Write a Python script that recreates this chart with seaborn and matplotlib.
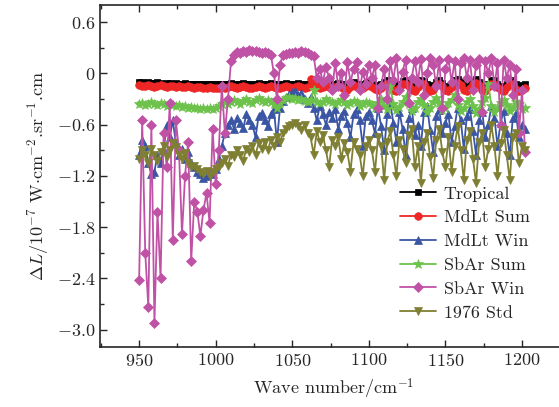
import numpy as np
import pandas as pd
import matplotlib
matplotlib.use("Agg")
import matplotlib.pyplot as plt
from matplotlib.ticker import MultipleLocator, FuncFormatter
import seaborn as sns

# wave number grid (cm^-1), every 2 cm^-1
wave = np.arange(950, 1203, 2)

tropical = [
    -0.10, -0.10, -0.11, -0.10, -0.11, -0.11, -0.10, -0.11, -0.12, -0.11, -0.11, -0.12, -0.11,
    -0.12, -0.12, -0.11, -0.12, -0.13, -0.12, -0.12, -0.13, -0.13, -0.12, -0.13, -0.13, -0.13,
    -0.13, -0.12, -0.13, -0.12, -0.11, -0.12, -0.13, -0.12, -0.11, -0.12, -0.12, -0.13, -0.12,
    -0.11, -0.12, -0.13, -0.12, -0.11, -0.12, -0.12, -0.13, -0.12, -0.11, -0.12, -0.13,
    -0.12, -0.11, -0.12, -0.13, -0.12, -0.11, -0.10, -0.12, -0.13, -0.12, -0.11, -0.12, -0.13,
    -0.12, -0.11, -0.12, -0.13, -0.14, -0.12, -0.10, -0.12, -0.14, -0.13, -0.11, -0.10,
    -0.12, -0.14, -0.15, -0.13, -0.10, -0.08, -0.11, -0.14, -0.16, -0.13, -0.09, -0.08, -0.11,
    -0.15, -0.16, -0.12, -0.08, -0.09, -0.13, -0.16, -0.14, -0.10, -0.08, -0.11, -0.15,
    -0.16, -0.12, -0.08, -0.07, -0.10, -0.14, -0.16, -0.13, -0.09, -0.07, -0.10, -0.14, -0.16,
    -0.12, -0.08, -0.08, -0.12, -0.15, -0.16, -0.12, -0.08, -0.09, -0.13, -0.16, -0.14, -0.12,
]

mdlt_sum = [
    -0.14, -0.15, -0.15, -0.14, -0.15, -0.16, -0.15, -0.14, -0.15, -0.16, -0.15, -0.15, -0.16,
    -0.15, -0.16, -0.16, -0.15, -0.16, -0.17, -0.16, -0.16, -0.17, -0.17, -0.16, -0.17, -0.17,
    -0.17, -0.16, -0.17, -0.16, -0.15, -0.16, -0.17, -0.16, -0.15, -0.16, -0.17, -0.17, -0.16,
    -0.15, -0.16, -0.17, -0.16, -0.15, -0.16, -0.17, -0.17, -0.16, -0.15, -0.16, -0.17,
    -0.16, -0.15, -0.16, -0.17, -0.16, -0.07, -0.12, -0.16, -0.17, -0.16, -0.15, -0.16, -0.17,
    -0.16, -0.15, -0.16, -0.18, -0.19, -0.16, -0.14, -0.16, -0.18, -0.17, -0.15, -0.14,
    -0.16, -0.18, -0.20, -0.17, -0.14, -0.12, -0.15, -0.19, -0.21, -0.17, -0.13, -0.12, -0.15,
    -0.20, -0.21, -0.16, -0.12, -0.13, -0.18, -0.21, -0.19, -0.14, -0.12, -0.15, -0.20,
    -0.21, -0.16, -0.12, -0.11, -0.14, -0.19, -0.21, -0.17, -0.13, -0.11, -0.14, -0.19, -0.21,
    -0.16, -0.12, -0.12, -0.16, -0.20, -0.21, -0.16, -0.12, -0.13, -0.18, -0.21, -0.19, -0.17,
]

mdlt_win = [
    -0.95, -0.78, -0.85, -1.05, -1.18, -1.15, -0.95, -1.05, -0.90, -0.60, -0.75, -0.55, -0.82,
    -0.95, -0.88, -1.00, -0.92, -1.05, -1.10, -1.15, -1.18, -1.22, -1.20, -1.16, -1.18, -1.12,
    -1.00, -0.85, -0.70, -0.60, -0.55, -0.65, -0.52, -0.58, -0.64, -0.48, -0.55, -0.60, -0.75,
    -0.50, -0.46, -0.55, -0.62, -0.48, -0.42, -0.80, -0.40, -0.32, -0.28, -0.24, -0.22,
    -0.21, -0.25, -0.23, -0.30, -0.35, -0.28, -0.40, -0.55, -0.38, -0.48, -0.60, -0.45, -0.52,
    -0.42, -0.65, -0.50, -0.44, -0.58, -0.75, -0.48, -0.42, -0.55, -0.85, -0.50, -0.45,
    -0.55, -0.70, -0.40, -0.62, -0.90, -0.48, -0.35, -0.58, -0.80, -0.45, -0.65, -0.95, -0.52,
    -0.40, -0.72, -0.60, -0.85, -0.45, -0.38, -0.66, -0.92, -0.50, -0.43, -0.70, -0.58,
    -0.48, -0.80, -0.62, -0.40, -0.55, -0.88, -0.50, -0.42, -0.68, -0.95, -0.55, -0.45, -0.75,
    -0.60, -0.38, -0.52, -0.85, -0.58, -0.44, -0.70, -0.96, -0.52, -0.46, -0.75, -0.60, -0.65,
]

sbar_sum = [
    -0.36, -0.35, -0.37, -0.36, -0.34, -0.36, -0.37, -0.35, -0.36, -0.38, -0.36, -0.37, -0.38,
    -0.37, -0.39, -0.38, -0.40, -0.39, -0.41, -0.40, -0.42, -0.41, -0.42, -0.41, -0.42, -0.40,
    -0.38, -0.36, -0.34, -0.36, -0.33, -0.31, -0.34, -0.36, -0.32, -0.30, -0.33, -0.35, -0.31,
    -0.29, -0.32, -0.34, -0.31, -0.33, -0.36, -0.40, -0.35, -0.31, -0.29, -0.28, -0.30,
    -0.29, -0.31, -0.30, -0.32, -0.34, -0.31, -0.20, -0.33, -0.35, -0.33, -0.30, -0.32, -0.34,
    -0.36, -0.33, -0.31, -0.34, -0.37, -0.35, -0.32, -0.34, -0.38, -0.36, -0.33, -0.35,
    -0.37, -0.40, -0.35, -0.30, -0.38, -0.42, -0.15, -0.36, -0.43, -0.39, -0.33, -0.28, -0.36,
    -0.44, -0.40, -0.34, -0.30, -0.37, -0.45, -0.41, -0.33, -0.29, -0.35, -0.43, -0.40,
    -0.35, -0.31, -0.25, -0.37, -0.44, -0.41, -0.34, -0.30, -0.38, -0.46, -0.42, -0.33, -0.29,
    -0.12, -0.38, -0.45, -0.40, -0.35, -0.31, -0.37, -0.44, -0.39, -0.33, -0.36, -0.42, -0.40,
]

sbar_win = [
    -2.42, -0.55, -2.10, -2.73, -0.60, -2.92, -1.62, -2.40, -0.70, -1.10, -0.35, -1.95, -0.55,
    -0.90, -1.88, -1.20, -0.80, -2.20, -1.50, -1.62, -1.90, -1.60, -1.40, -1.75, -0.65, -1.30,
    -0.90, -0.15, -0.70, -0.30, 0.14, 0.22, 0.25, 0.24, 0.26, 0.25, 0.27, 0.26, 0.26,
    0.25, 0.24, 0.25, 0.24, 0.22, 0.00, -0.30, 0.10, 0.22, 0.23, 0.24, 0.24,
    0.25, 0.24, 0.26, 0.25, 0.24, 0.22, 0.20, -0.05, 0.05, -0.10, 0.08, -0.05, -0.20,
    0.12, -0.15, 0.00, -0.25, 0.13, -0.10, 0.05, 0.13, -0.20, 0.02, -0.12, 0.10,
    -0.05, 0.10, -0.40, -0.15, 0.05, -0.30, 0.14, -0.08, 0.18, -0.20, 0.02, 0.16, -0.35,
    -0.05, 0.15, -0.10, 0.17, -0.25, 0.00, 0.18, 0.10, -0.15, 0.16, -0.40, 0.05,
    0.17, -0.10, 0.15, -0.30, 0.12, 0.18, -0.05, 0.16, -0.20, 0.10, 0.17, -0.45, 0.14,
    0.00, 0.18, -0.15, 0.12, -0.60, 0.16, -0.05, 0.10, -0.25, 0.05, -0.70, -0.20, -0.92,
]

std1976 = [
    -1.00, -0.90, -0.95, -1.05, -0.88, -0.96, -1.02, -0.92, -0.85, -0.98, -0.90, -0.82, -0.86,
    -0.95, -1.00, -0.93, -1.05, -1.10, -1.08, -1.12, -1.15, -1.18, -1.14, -1.20, -1.16, -1.12,
    -1.10, -1.05, -1.00, -1.08, -0.95, -0.98, -0.90, -0.96, -1.02, -0.88, -0.92, -0.85, -0.95,
    -0.82, -0.88, -0.80, -0.90, -0.78, -0.85, -0.75, -0.80, -0.70, -0.65, -0.62, -0.60,
    -0.58, -0.62, -0.66, -0.60, -0.70, -0.75, -0.95, -0.68, -0.80, -0.72, -0.90, -1.10, -0.78,
    -0.85, -0.75, -1.00, -0.82, -0.92, -1.15, -0.80, -0.88, -0.95, -1.20, -0.85, -0.78,
    -0.90, -1.15, -0.75, -0.85, -1.25, -0.80, -0.68, -0.95, -1.20, -0.78, -0.88, -1.05, -0.72,
    -0.65, -1.10, -0.85, -1.28, -0.80, -0.70, -0.98, -1.22, -0.78, -0.65, -0.92, -1.10,
    -0.75, -1.15, -0.85, -0.62, -0.90, -1.25, -0.78, -0.68, -1.00, -1.28, -0.80, -0.70, -1.10,
    -0.88, -0.60, -0.85, -1.20, -0.82, -0.66, -0.95, -1.25, -0.75, -0.70, -1.05, -0.85, -0.90,
]

names = ["Tropical", "MdLt Sum", "MdLt Win", "SbAr Sum", "SbAr Win", "1976 Std"]
series = [tropical, mdlt_sum, mdlt_win, sbar_sum, sbar_win, std1976]
colors = ["#000000", "#ee2626", "#3a55a4", "#6cc24a", "#c052a6", "#7f7f33"]
markers = ["s", "o", "^", "*", "D", "v"]
msizes = [5, 5.5, 5.5, 7, 5, 6]

sns.set_style("ticks")
plt.rcParams["font.family"] = "serif"
plt.rcParams["font.serif"] = ["cmr10"]
plt.rcParams["mathtext.fontset"] = "cm"
plt.rcParams["axes.formatter.use_mathtext"] = True

fig = plt.figure(figsize=(5.59, 4.07), dpi=100)
ax = fig.add_axes([0.179, 0.148, 0.837, 0.8396])

for name, vals, c, m, ms in zip(names, series, colors, markers, msizes):
    sns.lineplot(x=wave, y=vals, ax=ax, color=c, marker=m, markersize=ms,
                 mec=c, mew=0.5, linewidth=1.3, label=name, estimator=None)

ax.set_xlim(924.5, 1230)
ax.set_ylim(-3.2, 0.8)
ax.xaxis.set_major_locator(MultipleLocator(50))
ax.xaxis.set_minor_locator(MultipleLocator(25))
ax.yaxis.set_major_locator(MultipleLocator(0.6))
ax.yaxis.set_minor_locator(MultipleLocator(0.3))


def yfmt(v, pos):
    if abs(v) < 1e-9:
        return "$0$"
    return "$%.1f$" % v


ax.yaxis.set_major_formatter(FuncFormatter(yfmt))
ax.tick_params(which="both", direction="in", top=True, right=False, labelsize=13)
ax.tick_params(which="major", length=5, width=1)
ax.tick_params(which="minor", length=3, width=1)
for s in ["left", "bottom", "top"]:
    ax.spines[s].set_linewidth(1.2)
ax.spines["right"].set_visible(False)

ax.set_xlabel(r"Wave number/cm$^{-1}$", fontsize=13, labelpad=6)
ax.set_ylabel(r"$\Delta L/10^{-7}$ W$\cdot$cm$^{-2}$.sr$^{-1}$.cm", fontsize=13, labelpad=4)

ax.legend(loc="upper left", bbox_to_anchor=(0.70, 0.565), bbox_transform=fig.transFigure,
          frameon=False, fontsize=13, handlelength=2.0, handletextpad=0.4,
          labelspacing=0.45, borderpad=0)

fig.savefig("out.png", dpi=100)
